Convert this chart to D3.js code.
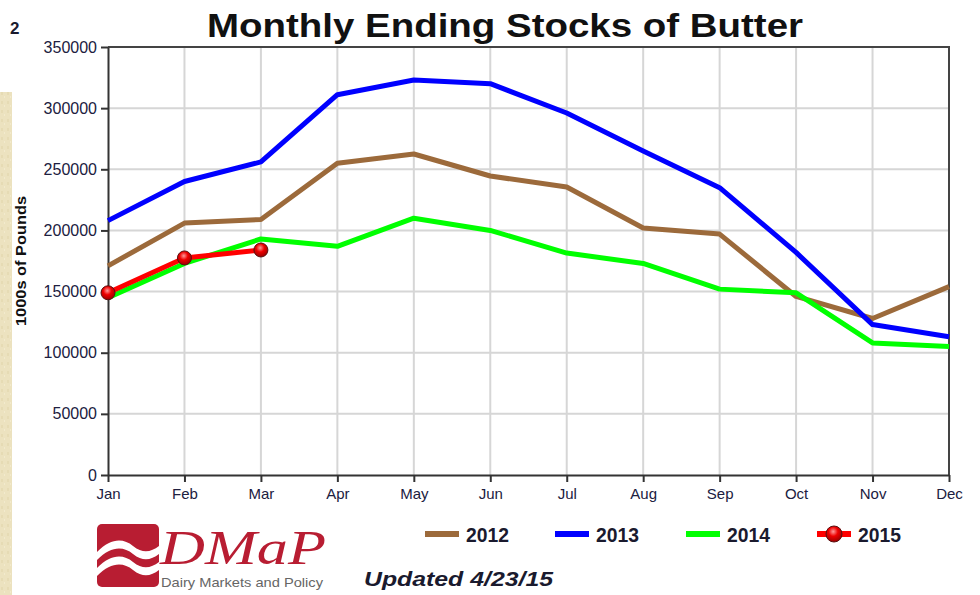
<!DOCTYPE html>
<html>
<head>
<meta charset="utf-8">
<script src="https://cdn.jsdelivr.net/npm/d3@7"></script>
<style>
  body { margin: 0; background: #fff; }
  svg { display: block; font-family: "Liberation Sans", Arial, sans-serif; }
</style>
</head>
<body>
<div id="graphic"></div>
<script>
// data, 1000s of pounds
const MONTHS = ["Jan","Feb","Mar","Apr","May","Jun","Jul","Aug","Sep","Oct","Nov","Dec"];
const Y_TICKS = [0, 50000, 100000, 150000, 200000, 250000, 300000, 350000];
const S2012 = [171000, 206000, 209000, 255000, 262500, 244500, 235500, 202000, 197000, 146000, 128000, 154000];
const S2013 = [208000, 240000, 256000, 311000, 323000, 320000, 296000, 265000, 235000, 182000, 123000, 113000];
const S2014 = [145000, 173000, 193000, 187000, 210000, 200000, 181500, 173000, 152000, 149000, 108000, 105000];
const S2015 = [149000, 177500, 184000];

const SERIES = [
  {name: "2012", values: S2012, color: "#9c6a3b", dots: false},
  {name: "2013", values: S2013, color: "#0000ff", dots: false},
  {name: "2014", values: S2014, color: "#00ff00", dots: false},
  {name: "2015", values: S2015, color: "#ff0000", dots: true}
];

const W = 980, H = 595;
const margin = {top: 47, left: 108, right: 31, bottom: 120};

var svg = d3.select("#graphic").append("svg")
    .attr("width", W)
    .attr("height", H);

var defs = svg.append("defs");
var grad = defs.append("radialGradient")
    .attr("id", "dotGrad")
    .attr("cx", "45%").attr("cy", "35%").attr("r", "65%");
grad.append("stop").attr("offset", "0%").attr("stop-color", "#ff9a9a");
grad.append("stop").attr("offset", "45%").attr("stop-color", "#ee0000");
grad.append("stop").attr("offset", "100%").attr("stop-color", "#990000");

// textured strip on the left edge
var tex = defs.append("pattern")
    .attr("id", "paper").attr("patternUnits", "userSpaceOnUse")
    .attr("width", 6).attr("height", 9);
tex.append("rect").attr("width", 6).attr("height", 9).attr("fill", "#ece2bf");
tex.append("rect").attr("x", 1).attr("y", 2).attr("width", 2).attr("height", 3).attr("fill", "#e6dbb4");
tex.append("rect").attr("x", 4).attr("y", 6).attr("width", 1).attr("height", 2).attr("fill", "#f2eacd");
svg.append("rect")
    .attr("x", 0).attr("y", 92).attr("width", 12).attr("height", H - 92)
    .attr("fill", "url(#paper)");

svg.append("text")
    .attr("x", 10).attr("y", 34)
    .attr("font-size", 17).attr("font-weight", "bold").attr("fill", "#1a1a2e")
    .text("2");

var x = d3.scalePoint()
    .domain(MONTHS)
    .range([margin.left, W - margin.right]);

var y = d3.scaleLinear()
    .domain([0, 350000])
    .range([H - margin.bottom, margin.top]);

// grid
svg.append("g")
    .selectAll("line.hg")
    .data(Y_TICKS.slice(1, -1))
    .enter().append("line")
    .attr("x1", margin.left).attr("x2", W - margin.right)
    .attr("y1", d => y(d)).attr("y2", d => y(d))
    .attr("stroke", "#d6d6d6").attr("stroke-width", 2);

svg.append("g")
    .selectAll("line.vg")
    .data(MONTHS.slice(1, -1))
    .enter().append("line")
    .attr("x1", d => x(d)).attr("x2", d => x(d))
    .attr("y1", margin.top).attr("y2", H - margin.bottom)
    .attr("stroke", "#d6d6d6").attr("stroke-width", 2);

// frame top + right
svg.append("path")
    .attr("d", `M${margin.left},${margin.top}H${W - margin.right}V${H - margin.bottom}`)
    .attr("fill", "none").attr("stroke", "#444").attr("stroke-width", 2);

var yAxis = d3.axisLeft(y).tickValues(Y_TICKS).tickSizeInner(7).tickSizeOuter(0).tickPadding(4).tickFormat(d3.format("d"));
var xAxis = d3.axisBottom(x).tickSizeInner(7).tickSizeOuter(0).tickPadding(6);

svg.append("g")
    .attr("transform", `translate(${margin.left},0)`)
    .call(yAxis)
    .call(g => g.selectAll("path, line").attr("stroke", "#333").attr("stroke-width", 2))
    .call(g => g.selectAll("text").attr("font-size", 16).attr("fill", "#202040")
        .attr("font-family", "'Liberation Sans', Arial, sans-serif"));

svg.append("g")
    .attr("transform", `translate(0,${H - margin.bottom})`)
    .call(xAxis)
    .call(g => g.selectAll("path, line").attr("stroke", "#333").attr("stroke-width", 2))
    .call(g => g.selectAll("text").attr("font-size", 15).attr("fill", "#202040")
        .attr("font-family", "'Liberation Sans', Arial, sans-serif"));

svg.append("text")
    .attr("transform", `translate(26,${(margin.top + H - margin.bottom) / 2}) rotate(-90)`)
    .attr("text-anchor", "middle")
    .attr("font-size", 14).attr("font-weight", "bold").attr("fill", "#111")
    .attr("textLength", 130).attr("lengthAdjust", "spacingAndGlyphs")
    .text("1000s of Pounds");

svg.append("text")
    .attr("x", 505).attr("y", 37)
    .attr("text-anchor", "middle")
    .attr("font-size", 33).attr("font-weight", "bold").attr("fill", "#111")
    .attr("textLength", 596).attr("lengthAdjust", "spacingAndGlyphs")
    .text("Monthly Ending Stocks of Butter");

var line = d3.line()
    .x((d, i) => x(MONTHS[i]))
    .y(d => y(d));

SERIES.forEach(function(s){
    svg.append("path")
        .datum(s.values)
        .attr("d", line)
        .attr("fill", "none")
        .attr("stroke", s.color)
        .attr("stroke-width", 5)
        .attr("stroke-linejoin", "round");
    if(s.dots){
        svg.append("g").selectAll("circle")
            .data(s.values)
            .enter().append("circle")
            .attr("cx", (d, i) => x(MONTHS[i]))
            .attr("cy", d => y(d))
            .attr("r", 7)
            .attr("fill", "url(#dotGrad)")
            .attr("stroke", "#5a1010").attr("stroke-width", 1);
    }
});

// legend
var legX = [425, 555, 686, 817];
var leg = svg.append("g").selectAll("g")
    .data(SERIES)
    .enter().append("g")
    .attr("transform", (d, i) => `translate(${legX[i]},534)`);
leg.append("line")
    .attr("x1", 0).attr("x2", 34)
    .attr("stroke", d => d.color).attr("stroke-width", 6);
leg.filter(d => d.dots).append("circle")
    .attr("cx", 17).attr("r", 8)
    .attr("fill", "url(#dotGrad)").attr("stroke", "#5a1010").attr("stroke-width", 1);
leg.append("text")
    .attr("x", 41).attr("y", 8)
    .attr("font-size", 21).attr("font-weight", "bold").attr("fill", "#1a1a2e")
    .attr("textLength", 43).attr("lengthAdjust", "spacingAndGlyphs")
    .text(d => d.name);

svg.append("text")
    .attr("x", 364).attr("y", 586)
    .attr("font-size", 20).attr("font-weight", "bold").attr("font-style", "italic").attr("fill", "#1a1a2e")
    .attr("textLength", 189).attr("lengthAdjust", "spacingAndGlyphs")
    .text("Updated 4/23/15");

// DMaP logo
var logo = svg.append("g").attr("transform", "translate(97,524)");
logo.append("rect")
    .attr("width", 62).attr("height", 63).attr("rx", 5)
    .attr("fill", "#b81d32");
logo.append("path")
    .attr("d", "M0,28 C14,14 26,14 36,22 C46,30 54,28 62,22 L62,30 C54,36 46,38 36,30 C26,22 14,22 0,36 Z")
    .attr("fill", "#fff");
logo.append("path")
    .attr("d", "M0,44 C14,30 26,30 36,38 C46,46 54,44 62,38 L62,46 C54,52 46,54 36,46 C26,38 14,38 0,52 Z")
    .attr("fill", "#fff");
svg.append("text")
    .attr("x", 160).attr("y", 564)
    .attr("font-family", "'Liberation Serif', 'DejaVu Serif', serif")
    .attr("font-size", 48).attr("font-style", "italic").attr("fill", "#b81d32")
    .attr("textLength", 166).attr("lengthAdjust", "spacingAndGlyphs")
    .text("DMaP");
svg.append("text")
    .attr("x", 161).attr("y", 587)
    .attr("font-size", 13).attr("fill", "#666")
    .attr("textLength", 162).attr("lengthAdjust", "spacingAndGlyphs")
    .text("Dairy Markets and Policy");
</script>
</body>
</html>
